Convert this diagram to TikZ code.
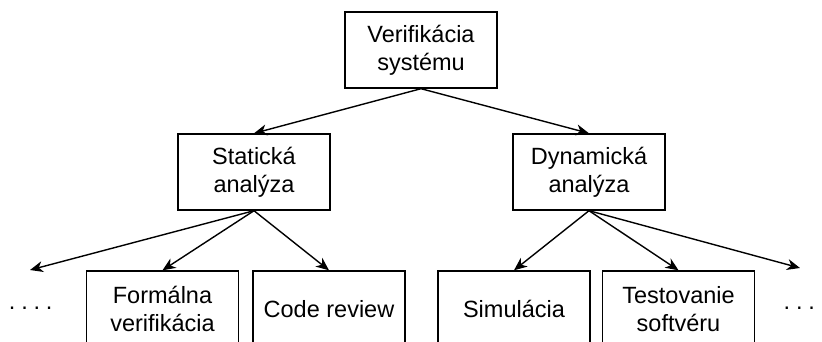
\documentclass[tikz,border=0pt]{standalone}
\usepackage{fontspec}
\setmainfont{Liberation Sans}
\usetikzlibrary{arrows.meta}
\newcommand{\fourdots}{.\hspace{5.8pt}.\hspace{5.8pt}.\hspace{5.8pt}.}
\begin{document}
\begin{tikzpicture}[x=1pt,y=-1pt,
  box/.style={draw, line width=1.4pt, minimum width=152pt, minimum height=76pt, inner sep=0pt, align=center, font=\fontsize{23.5}{28}\selectfont},
  conn/.style={line width=1.4pt, -{Stealth[length=13pt,width=11pt,inset=4pt]}},
  dots/.style={inner sep=0pt, font=\fontsize{23.5}{28}\selectfont}]
\useasboundingbox (0,0) rectangle (822,342);
\clip (0,0) rectangle (822,342);
\node[box] (root) at (421,50) {Verifikácia\\systému};
\node[box] (stat) at (254,172) {Statická\\analýza};
\node[box] (dyn) at (589,172) {Dynamická\\analýza};
\node[box] (form) at (162.5,309) {Formálna\\verifikácia};
\node[box] (code) at (329,309) {Code review};
\node[box] (sim) at (514,309) {Simulácia};
\node[box] (test) at (678.5,309) {Testovanie\\softvéru};
\coordinate (lfree) at (30,270);
\coordinate (rfree) at (800,268);
\node[dots, anchor=base west] (ldots) at (8.8,309.5) {\fourdots};
\node[dots, anchor=base west] (rdots) at (783.5,309.5) {\fourdots};
\draw[conn] (root.south) -- (stat.north);
\draw[conn] (root.south) -- (dyn.north);
\draw[conn] (stat.south) -- (lfree);
\draw[conn] (stat.south) -- (form.north);
\draw[conn] (stat.south) -- (code.north);
\draw[conn] (dyn.south) -- (sim.north);
\draw[conn] (dyn.south) -- (test.north);
\draw[conn] (dyn.south) -- (rfree);
\end{tikzpicture}
\end{document}
